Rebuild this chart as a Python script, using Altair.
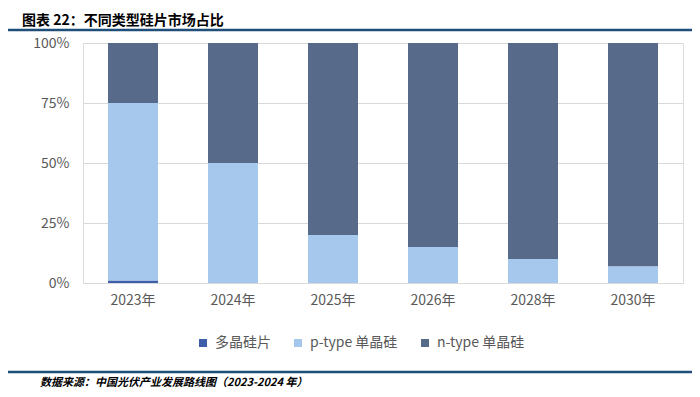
import altair as alt
import pandas as pd

years = ["2023年", "2024年", "2025年", "2026年", "2028年", "2030年"]
types = ["多晶硅片", "p-type 单晶硅", "n-type 单晶硅"]
poly = [0.01, 0.0, 0.0, 0.0, 0.0, 0.0]
ptype = [0.74, 0.50, 0.20, 0.15, 0.10, 0.07]
ntype = [0.25, 0.50, 0.80, 0.85, 0.90, 0.93]
colors = ["#3D5EA8", "#A6C8EC", "#586A8A"]

title_text = "图表 22：不同类型硅片市场占比"
source_text = "数据来源：中国光伏产业发展路线图（2023-2024 年）"

rows = []
for i, y in enumerate(years):
    for k, (t, vals) in enumerate(zip(types, [poly, ptype, ntype])):
        rows.append({"year": y, "type": t, "value": vals[i], "ord": k})
df = pd.DataFrame(rows)

FONT = "Noto Sans CJK SC"

bars = alt.Chart(df).mark_bar(size=50).encode(
    x=alt.X("year:N", sort=years, title=None,
            scale=alt.Scale(paddingInner=0.5, paddingOuter=0.25),
            axis=alt.Axis(labelAngle=0, labelFontSize=14, labelColor="#595959",
                          labelFont=FONT, ticks=False, domainColor="#D9D9D9",
                          labelPadding=10, grid=False)),
    y=alt.Y("value:Q", stack="zero", title=None,
            scale=alt.Scale(domain=[0, 1]),
            axis=alt.Axis(values=[0, 0.25, 0.5, 0.75, 1], format=".0%",
                          labelFontSize=14, labelColor="#595959", labelFont=FONT,
                          ticks=False, domain=False, gridColor="#D9D9D9",
                          labelPadding=14)),
    color=alt.Color("type:N", sort=types,
                    scale=alt.Scale(domain=types, range=colors),
                    legend=alt.Legend(title=None, orient="none", direction="horizontal",
                                      legendX=113, legendY=293, symbolType="square",
                                      symbolSize=64, symbolStrokeWidth=0,
                                      labelFontSize=14, labelColor="#595959",
                                      labelFont=FONT, columnPadding=20,
                                      labelOffset=5)),
    order=alt.Order("ord:Q", sort="ascending"),
)

top_line = alt.Chart(pd.DataFrame({"a": [0]})).mark_rule(
    color="#1F4E79", strokeWidth=2.5).encode(
    x=alt.value(-75), x2=alt.value(609), y=alt.value(-13))
bottom_line = alt.Chart(pd.DataFrame({"a": [0]})).mark_rule(
    color="#1F4E79", strokeWidth=2.5).encode(
    x=alt.value(-75), x2=alt.value(609), y=alt.value(329))

title = alt.Chart(pd.DataFrame({"t": [title_text]})).mark_text(
    align="left", baseline="middle", fontSize=14, fontWeight="bold",
    font=FONT, color="#000000").encode(
    text="t:N", x=alt.value(-61), y=alt.value(-22))

source = alt.Chart(pd.DataFrame({"t": [source_text]})).mark_text(
    align="left", baseline="middle", fontSize=11, fontWeight="bold",
    fontStyle="italic", font=FONT, color="#000000").encode(
    text="t:N", x=alt.value(-43), y=alt.value(340))

chart = alt.layer(bars, top_line, bottom_line, title, source).properties(
    width=600, height=240,
    autosize=alt.AutoSizeParams(type="none"),
    padding={"left": 75, "top": 35, "right": 9, "bottom": 106},
).configure_view(stroke=None).configure(background="white")

chart.save("out.html", embed_options={"renderer": "svg", "actions": False})
